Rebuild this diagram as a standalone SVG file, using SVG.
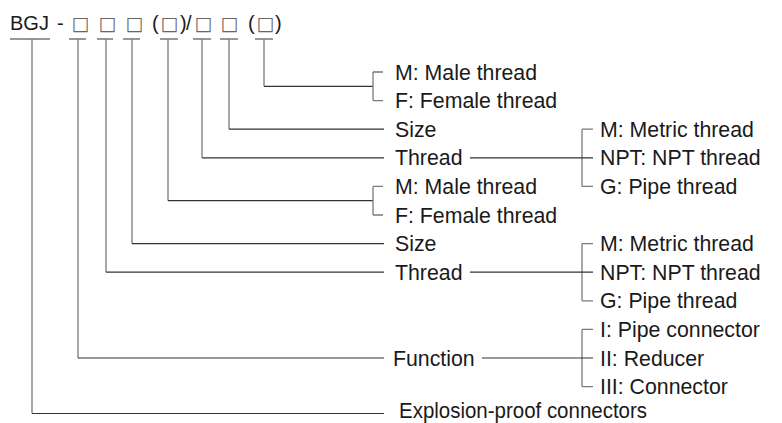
<svg xmlns="http://www.w3.org/2000/svg" width="782" height="423" viewBox="0 0 782 423">
<style>
text{font-family:"Liberation Sans",Arial,sans-serif;fill:#1a1a1a}
.t{font-size:20px}
.l{font-size:21.3px}
.bx{font-family:"DejaVu Sans",sans-serif;font-size:19px;fill:#666}
.h{stroke:#333;stroke-width:1.2;fill:none}
.v{stroke:#7a7a7a;stroke-width:1.3;fill:none}
</style>
<rect width="782" height="423" fill="#fff"/>
<g id="code">
<text class="t" y="30"><tspan x="10">BGJ</tspan><tspan x="57">-</tspan><tspan class="bx" x="71.5">□</tspan><tspan class="bx" x="98.5">□</tspan><tspan class="bx" x="125.5">□</tspan><tspan x="152">(</tspan><tspan class="bx" x="160.5">□</tspan><tspan x="180">)</tspan><tspan x="186">/</tspan><tspan class="bx" x="194.5">□</tspan><tspan class="bx" x="220.5">□</tspan><tspan x="248">(</tspan><tspan class="bx" x="256.5">□</tspan><tspan x="275">)</tspan></text>
</g>
<g id="connectors">
<path class="h" d="M10 39H50M69 39H86M97 39H113M123 39H140M160 39H178M193 39H211M220 39H238M255 39H273"/>
<path class="v" d="M32 39V413.5M78 39V358M106 39V272.2M132 39V243.6M168 39V200.7M202 39V157.8M229 39V129.2M264 39V86.3"/>
<path class="h" d="M264 86.3H373M229 129.2H384M202 157.8H384M168 200.7H373M132 243.6H384M106 272.2H384M78 358H384M32 413.5H384"/>
<path class="v" d="M373 72V100.6M373 186.4V215M582 129.2V186.4M582 243.6V300.8M582 329.4V386.6"/>
<path class="v" d="M373 72H383M373 100.6H383M373 186.4H383M373 215H383M582 129.2H593M582 186.4H593M582 243.6H593M582 300.8H593M582 329.4H593M582 386.6H593"/>
<path class="h" d="M470 157.8H593M470 272.2H593M482 358H593"/>
</g>
<g id="n-mf1"><text class="l" x="395" y="79.5">M: Male thread</text><text class="l" x="395" y="108.1">F: Female thread</text></g>
<g id="n-size1"><text class="l" x="395" y="136.7">Size</text></g>
<g id="n-thread1"><text class="l" x="395" y="165.3">Thread</text></g>
<g id="n-type1"><text class="l" x="600" y="136.7">M: Metric thread</text><text class="l" x="600" y="165.3">NPT: NPT thread</text><text class="l" x="600" y="193.9">G: Pipe thread</text></g>
<g id="n-mf2"><text class="l" x="395" y="193.9">M: Male thread</text><text class="l" x="395" y="222.5">F: Female thread</text></g>
<g id="n-size2"><text class="l" x="395" y="251.1">Size</text></g>
<g id="n-thread2"><text class="l" x="395" y="279.7">Thread</text></g>
<g id="n-type2"><text class="l" x="600" y="251.1">M: Metric thread</text><text class="l" x="600" y="279.7">NPT: NPT thread</text><text class="l" x="600" y="308.3">G: Pipe thread</text></g>
<g id="n-function"><text class="l" x="393" y="365.5">Function</text></g>
<g id="n-func-opts"><text class="l" x="600" y="336.9">I: Pipe connector</text><text class="l" x="600" y="365.5">II: Reducer</text><text class="l" x="600" y="394.1">III: Connector</text></g>
<g id="n-explosion"><text class="l" x="399" y="418" textLength="248" lengthAdjust="spacingAndGlyphs">Explosion-proof connectors</text></g>
</svg>
